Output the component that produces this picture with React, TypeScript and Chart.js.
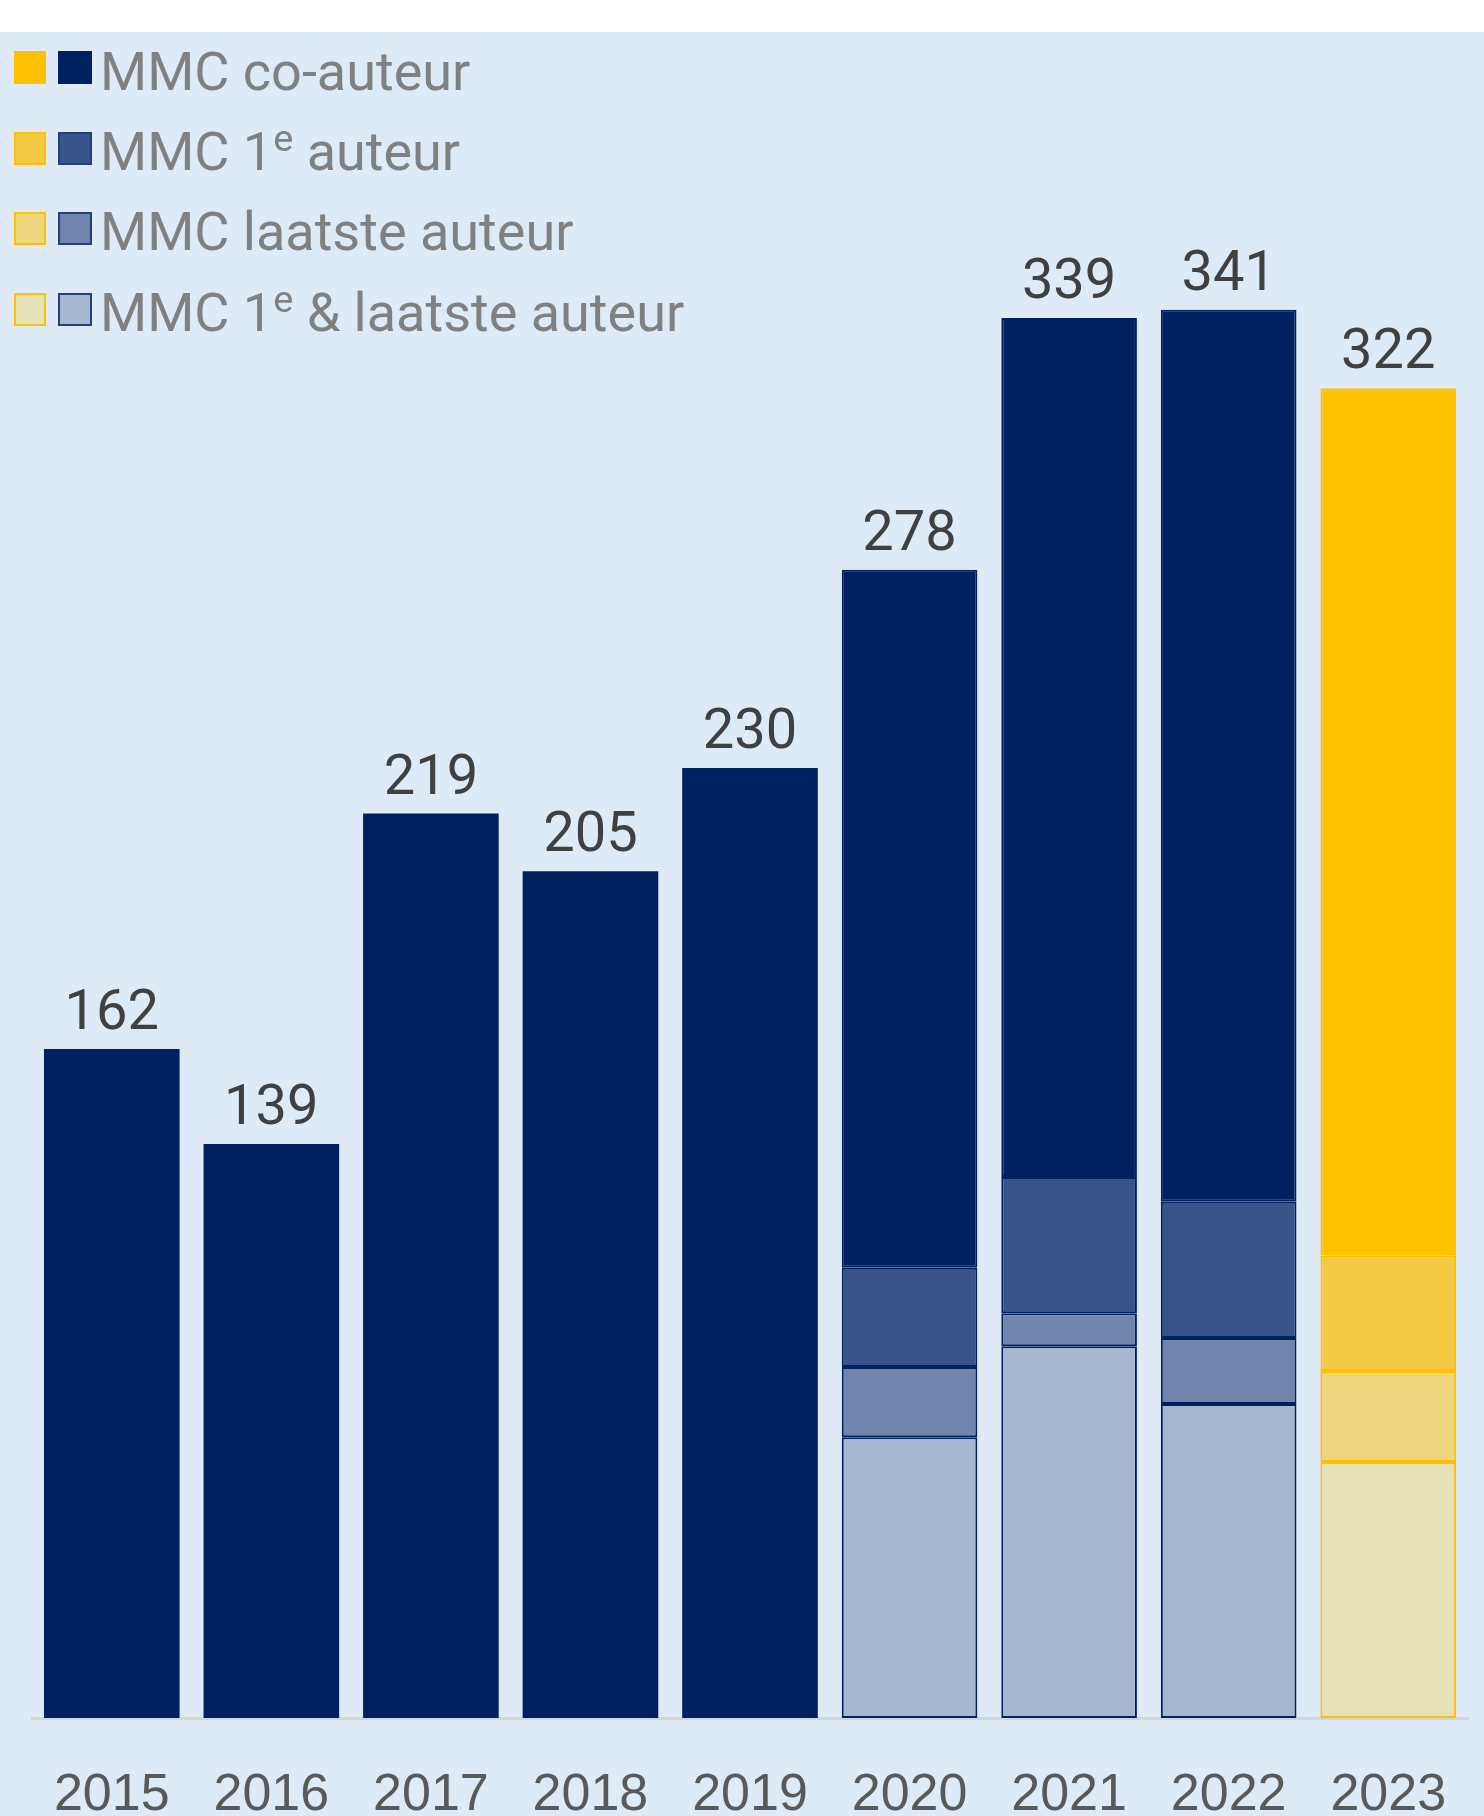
import React, { useEffect, useRef } from 'react';
import { Chart, registerables } from 'chart.js';

Chart.register(...registerables);

// ---- data ----
const years = ['2015', '2016', '2017', '2018', '2019', '2020', '2021', '2022', '2023'];
const coAuteur = [162, 139, 219, 205, 230, 169, 208, 216, 210];
const eersteAuteur = [null, null, null, null, null, 24, 33, 33, 28];
const laatsteAuteur = [null, null, null, null, null, 17, 8, 16, 22];
const eersteEnLaatste = [null, null, null, null, null, 68, 90, 76, 62];
const highlightYears = ['2023'];
const legendItems = [
  { pre: 'MMC co-auteur', sup: '', post: '' },
  { pre: 'MMC 1', sup: 'e', post: ' auteur' },
  { pre: 'MMC laatste auteur', sup: '', post: '' },
  { pre: 'MMC 1', sup: 'e', post: ' & laatste auteur' },
];

// ---- styles ----
const NAVY = ['#002060', '#38548A', '#7084AC', '#A6B7D2']; // co, 1e, laatste, 1e&laatste
const GOLD = ['#FFC000', '#F4CA44', '#EED67E', '#E4E1B9'];
const BG = '#DEEAF5';

const valueLabelPlugin = {
  id: 'valueLabels',
  afterDatasetsDraw(chart: any) {
    const { ctx, scales } = chart;
    const n = chart.data.labels.length;
    ctx.save();
    ctx.font = '56px Roboto';
    ctx.fillStyle = '#404040';
    ctx.textAlign = 'center';
    ctx.textBaseline = 'alphabetic';
    for (let i = 0; i < n; i++) {
      let total = 0;
      chart.data.datasets.forEach((ds: any) => {
        const v = ds.data[i];
        if (typeof v === 'number') total += v;
      });
      const x = scales.x.getPixelForValue(i);
      const y = scales.y.getPixelForValue(total);
      ctx.fillText(String(total), x, y - 20);
    }
    ctx.restore();
  },
};

export default function App() {
  const canvasRef = useRef<HTMLCanvasElement | null>(null);

  useEffect(() => {
    document.body.style.margin = '0';
    const canvas = canvasRef.current;
    if (!canvas) return;
    const isHi = (i: number) => highlightYears.includes(years[i]);
    const mk = (label: string, data: (number | null)[], k: number) => ({
      label,
      data,
      backgroundColor: years.map((_, i) => (isHi(i) ? GOLD[k] : NAVY[k])),
      borderColor: years.map((_, i) => (isHi(i) ? '#FFC000' : '#002060')),
      borderWidth: years.map((_, i) => (i >= 5 ? 2 : 0)),
      borderSkipped: false,
      barPercentage: 0.85,
      categoryPercentage: 1.0,
    });
    const chart = new Chart(canvas, {
      type: 'bar',
      data: {
        labels: years,
        datasets: [
          mk('MMC 1e & laatste auteur', eersteEnLaatste, 3),
          mk('MMC laatste auteur', laatsteAuteur, 2),
          mk('MMC 1e auteur', eersteAuteur, 1),
          mk('MMC co-auteur', coAuteur, 0),
        ],
      },
      options: {
        responsive: false,
        animation: false,
        devicePixelRatio: 1,
        layout: { padding: { top: 34, left: 32, right: 16, bottom: 0 } },
        plugins: { legend: { display: false }, tooltip: { enabled: false }, title: { display: false } },
        scales: {
          x: {
            stacked: true,
            grid: { display: false, drawTicks: false },
            border: { display: true, color: '#D2D6DA', width: 3 },
            ticks: {
              font: { family: 'Liberation Sans', size: 52, lineHeight: 3.0 },
              color: '#595959',
              padding: 0,
            },
            afterFit: (scale: any) => {
              scale.height = 98;
            },
          },
          y: {
            stacked: true,
            display: false,
            min: 0,
            max: 400,
          },
        },
      },
      plugins: [valueLabelPlugin],
    } as any);
    return () => chart.destroy();
  }, []);

  const swatch = (color: string, border: string, left: number, top: number, w: number) => (
    <div
      style={{
        position: 'absolute',
        left,
        top,
        width: w,
        height: 33,
        boxSizing: 'border-box',
        background: color,
        border: `2px solid ${border}`,
      }}
    />
  );

  const rowTops = [51, 132, 212, 293];
  const baselines = [90, 170, 250, 331];

  return (
    <div style={{ position: 'relative', width: 1484, height: 1816, background: '#FFFFFF', overflow: 'hidden' }}>
      <div style={{ position: 'absolute', left: 0, top: 32, width: 1484, height: 1784, background: BG }} />
      <canvas
        ref={canvasRef}
        width={1484}
        height={1784}
        style={{ position: 'absolute', left: 0, top: 32, width: 1484, height: 1784 }}
      />
      {legendItems.map((it, k) => (
        <React.Fragment key={k}>
          {swatch(GOLD[k], k === 0 ? GOLD[0] : '#FFC000', 14, rowTops[k], 32)}
          {swatch(NAVY[k], k === 0 ? NAVY[0] : '#24407A', 58, rowTops[k], 34)}
          <div
            style={{
              position: 'absolute',
              left: 100,
              top: baselines[k] - 50.4,
              font: '54px Roboto',
              lineHeight: '64px',
              color: '#808080',
              whiteSpace: 'nowrap',
            }}
          >
            {it.pre}
            {it.sup ? (
              <span style={{ fontSize: '0.7em', position: 'relative', top: '-0.5em' }}>{it.sup}</span>
            ) : null}
            {it.post}
          </div>
        </React.Fragment>
      ))}
    </div>
  );
}
